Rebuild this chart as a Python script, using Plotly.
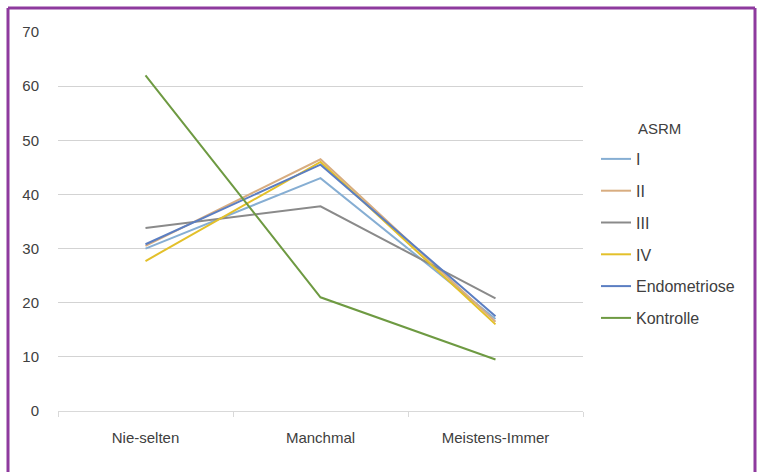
import plotly.graph_objects as go

categories = ["Nie-selten", "Manchmal", "Meistens-Immer"]
series_names = ["I", "II", "III", "IV", "Endometriose", "Kontrolle"]
vals_I = [30.0, 43.0, 17.0]
vals_II = [30.5, 46.5, 16.5]
vals_III = [33.8, 37.8, 20.8]
vals_IV = [27.7, 46.0, 16.0]
vals_Endo = [30.8, 45.5, 17.5]
vals_Kontrolle = [62.0, 21.0, 9.5]
y_ticks = [0, 10, 20, 30, 40, 50, 60, 70]
legend_title = "ASRM"

series_values = [vals_I, vals_II, vals_III, vals_IV, vals_Endo, vals_Kontrolle]
colors = ["#86aed3", "#d8ad80", "#8a8a8a", "#e3c02a", "#5b7ec2", "#6e9a42"]

fig = go.Figure()
for i, (name, vals, col) in enumerate(zip(series_names, series_values, colors)):
    fig.add_trace(go.Scatter(
        x=categories, y=vals, mode="lines", name=name,
        line=dict(color=col, width=2),
        legendgroup=f"g{i}",
    ))

L, R, T, B = 58, 176, 32, 61
W, H = 759, 472
pw, ph = W - L - R, H - T - B

def px_x(p):
    return (p - L) / pw

def px_y(p):
    return (H - B - p) / ph

border_col = "#8e3a9e"
shapes = [
    dict(type="line", xref="paper", yref="paper", x0=px_x(8), x1=px_x(8), y0=px_y(8), y1=px_y(480),
         line=dict(color=border_col, width=3)),
    dict(type="line", xref="paper", yref="paper", x0=px_x(8), x1=px_x(755), y0=px_y(8), y1=px_y(8),
         line=dict(color=border_col, width=3)),
    dict(type="line", xref="paper", yref="paper", x0=px_x(755), x1=px_x(755), y0=px_y(8), y1=px_y(480),
         line=dict(color=border_col, width=3)),
]

fig.update_layout(
    width=W, height=H,
    margin=dict(l=L, r=R, t=T, b=B),
    paper_bgcolor="white", plot_bgcolor="white",
    font=dict(family="Liberation Sans, Arial, sans-serif", size=15, color="#404040"),
    shapes=shapes,
    annotations=[dict(
        text=legend_title, xref="paper", yref="paper",
        x=px_x(636), y=px_y(128), xanchor="left", yanchor="middle",
        showarrow=False, font=dict(size=15, color="#404040"),
    )],
    showlegend=True,
    legend=dict(
        x=px_x(596), y=px_y(142), xanchor="left", yanchor="top",
        traceorder="grouped", tracegroupgap=8,
        font=dict(size=16, color="#404040"),
        itemwidth=30, bgcolor="rgba(0,0,0,0)",
    ),
    xaxis=dict(
        type="category", categoryorder="array", categoryarray=categories,
        showgrid=False, showline=True, linecolor="#d9d9d9", linewidth=1,
        ticks="outside", tickson="boundaries", ticklen=5, tickcolor="#d9d9d9",
        ticklabelstandoff=13, range=[-0.5, 2.5],
        tickfont=dict(size=15, color="#404040"),
    ),
    yaxis=dict(
        range=[0, 70], tickvals=y_ticks, showgrid=True, gridcolor="#d3d3d3", gridwidth=1,
        zeroline=False, showline=False, ticks="", ticklabelstandoff=18,
        tickfont=dict(size=15, color="#404040"),
    ),
)

fig.write_html("out.html")
